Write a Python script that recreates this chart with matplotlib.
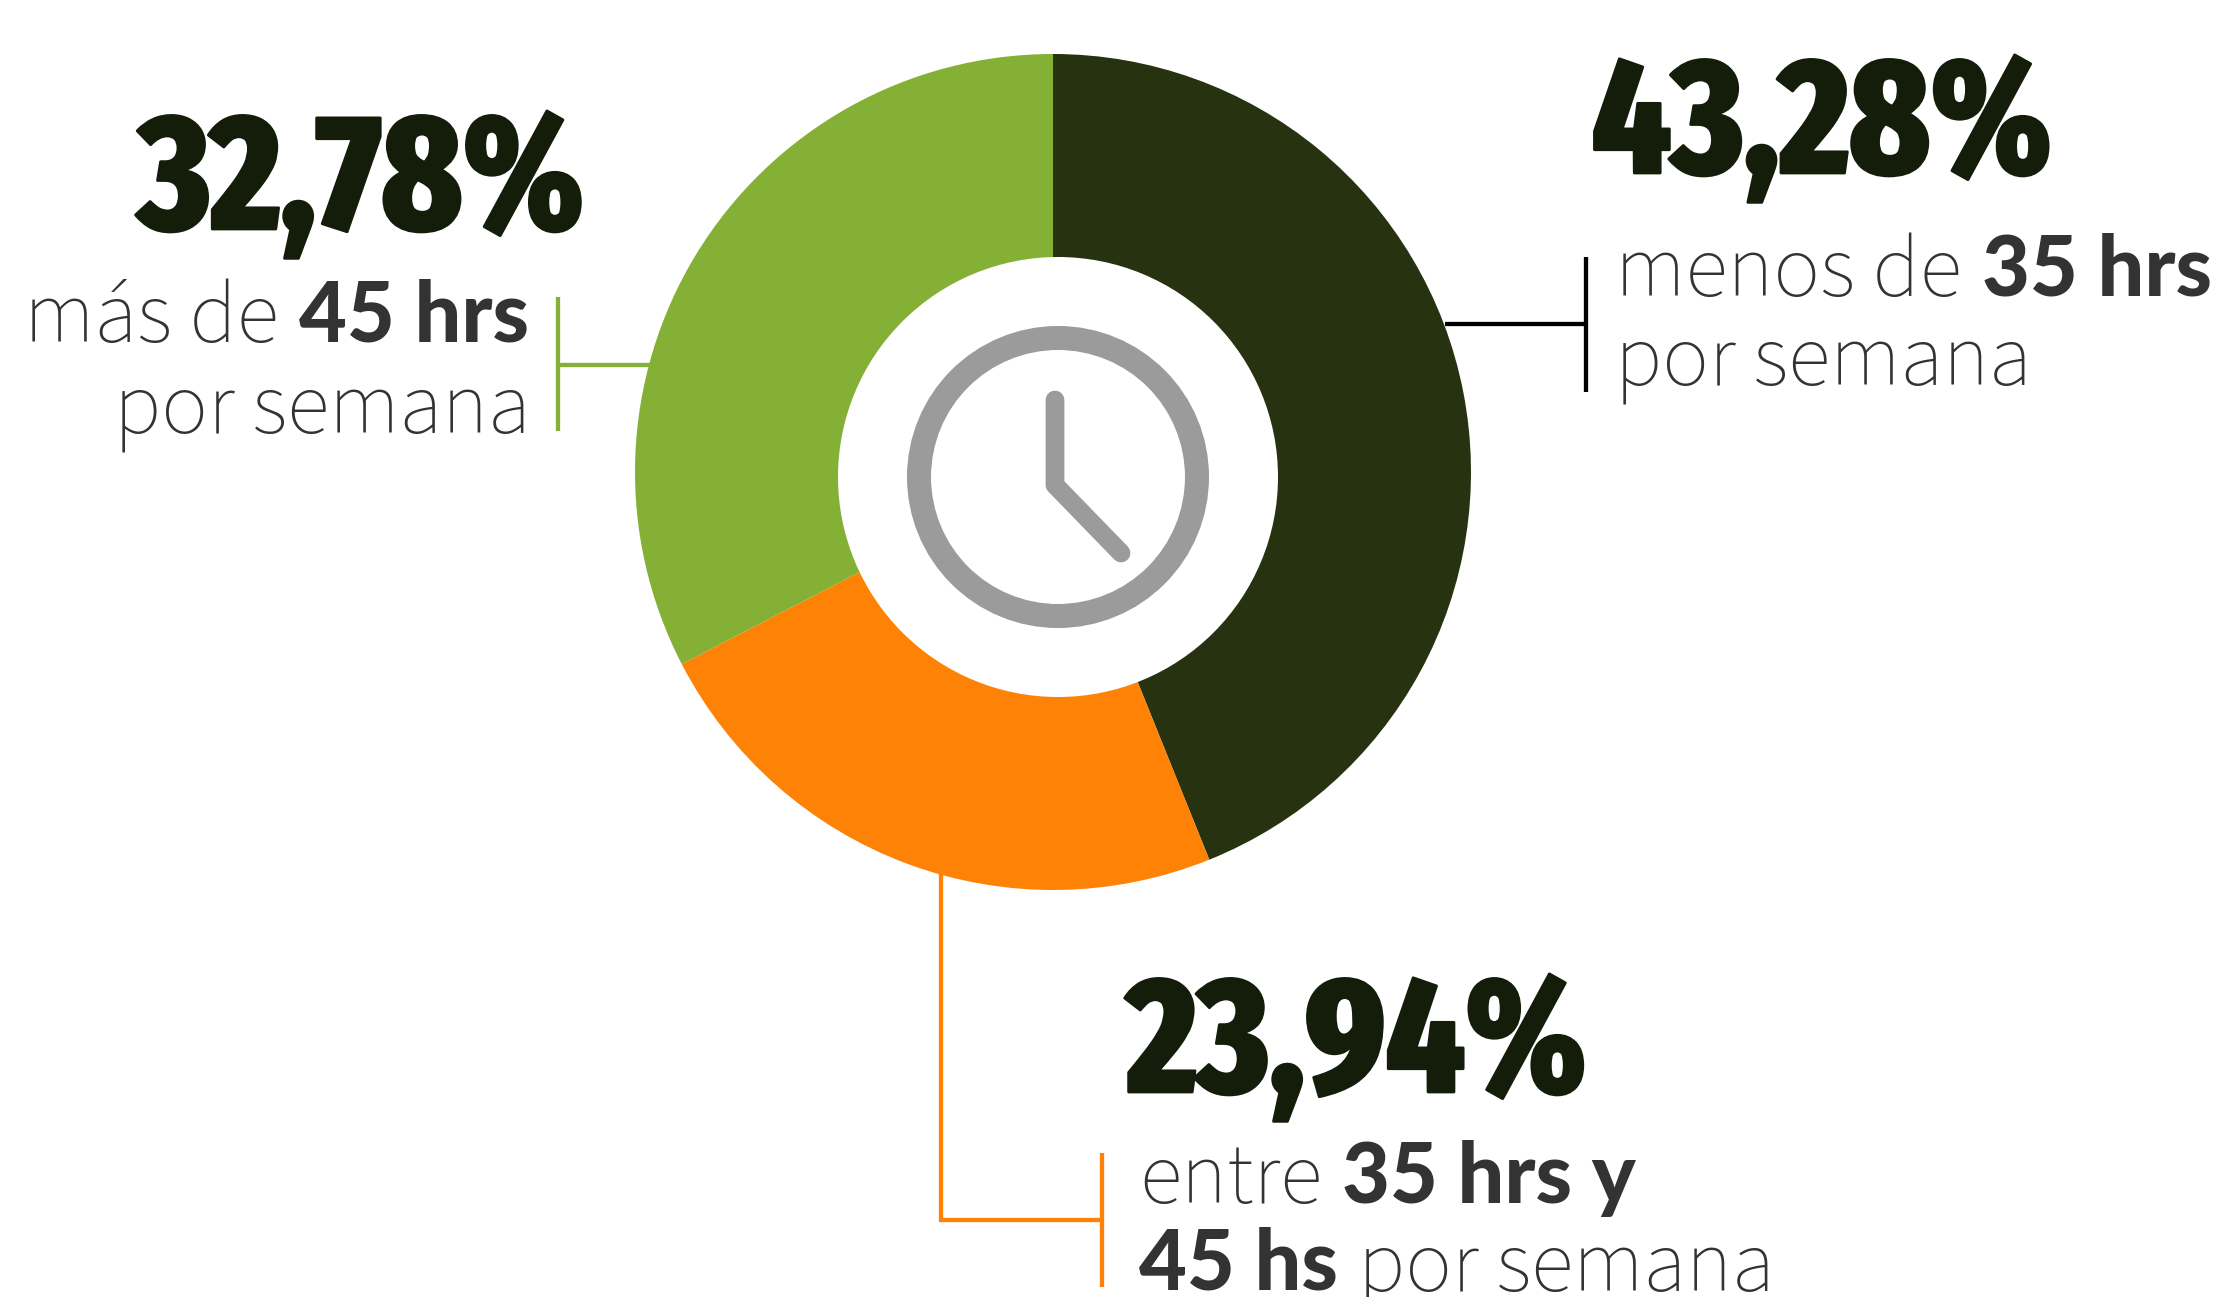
#!/usr/bin/env python3
"""Horas trabajadas por semana: donut with clock icon and callouts."""
import matplotlib
matplotlib.use('Agg')
import matplotlib.pyplot as plt
import matplotlib.patheffects as pe
from matplotlib.patches import Circle

W, H = 2225, 1297
DARK = '#263210'
GREEN = '#84b135'
ORANGE = '#fe8206'
GREY = '#9b9b9b'
INK = '#141c0a'
TXT = '#333333'
BIG_FONT = ['Fira Sans Extra Condensed', 'Roboto Condensed', 'Liberation Sans']
LIGHT_FONT = ['Source Sans 3', 'Open Sans']
BOLD_FONT = ['Lato', 'Open Sans']

# wedge sizes read from the arcs, they differ a little from the printed labels
wedges = [43.9, 23.5, 32.6]
wedge_colors = [DARK, ORANGE, GREEN]
share_labels = ['43,28%', '23,94%', '32,78%']


def line(ax, xs, ys, color):
    ax.plot(xs, ys, color=color, lw=3.1, solid_capstyle='butt', solid_joinstyle='miter', zorder=1)


def big(ax, x, y, s):
    ax.text(x, y, s, fontsize=118, family=BIG_FONT, fontweight=800, color=INK, ha='left', va='baseline',
            path_effects=[pe.withStroke(linewidth=2, foreground=INK)])


def rich(ax, x, y, parts, right=False):
    """Draw (text, bold) pieces one after the other on a baseline."""
    r = ax.figure.canvas.get_renderer()
    items = []
    for s, b in parts:
        t = ax.text(x, y, s, fontsize=59.5 if b else 63, family=BOLD_FONT if b else LIGHT_FONT,
                    fontweight=900 if b else 300, color=TXT, ha='left', va='baseline')
        items.append((t, t.get_window_extent(r).width))
    gap = 20
    total = sum(w for _, w in items) + gap * (len(items) - 1)
    cx = x - total if right else x
    for t, w in items:
        t.set_x(cx)
        cx += w + gap


def main():
    fig = plt.figure(figsize=(W / 100, H / 100), dpi=100)
    ax = fig.add_axes([0, 0, 1, 1])

    # y axis runs downwards, so counterclock here reads clockwise on screen
    ax.pie(wedges, colors=wedge_colors, startangle=-90, counterclock=True,
           center=(1053, 472), radius=418)
    ax.set_xlim(0, W); ax.set_ylim(H, 0); ax.axis('off')
    ax.add_patch(Circle((1058, 477), 220, fc='white', ec='none', zorder=3))

    # clock
    ax.add_patch(Circle((1058, 477), 139, fc='none', ec=GREY, lw=17.3, zorder=4))
    ax.plot([1055, 1055, 1121], [400, 485, 553], color=GREY, lw=13.5, solid_capstyle='round',
            solid_joinstyle='round', zorder=4)

    # leaders
    line(ax, [1445, 1586], [324, 324], 'black')
    line(ax, [1586, 1586], [257, 392], 'black')
    line(ax, [650, 558], [365, 365], GREEN)
    line(ax, [558, 558], [297, 431], GREEN)
    line(ax, [941, 941, 1102], [870, 1220, 1220], ORANGE)
    line(ax, [1102, 1102], [1153, 1287], ORANGE)

    big(ax, 1592, 173, share_labels[0])
    big(ax, 1127, 1092, share_labels[1])
    big(ax, 138, 229, share_labels[2])

    fig.canvas.draw()
    rich(ax, 1615, 296, [('menos de', False), ('35 hrs', True)])
    rich(ax, 1615, 385, [('por semana', False)])
    rich(ax, 529, 342, [('más de', False), ('45 hrs', True)], right=True)
    rich(ax, 531, 433, [('por semana', False)], right=True)
    rich(ax, 1139, 1203, [('entre', False), ('35 hrs y', True)])
    rich(ax, 1139, 1290, [('45 hs', True), ('por semana', False)])

    fig.savefig('out.png', dpi=100, facecolor='white')


if __name__ == "__main__":
    main()
